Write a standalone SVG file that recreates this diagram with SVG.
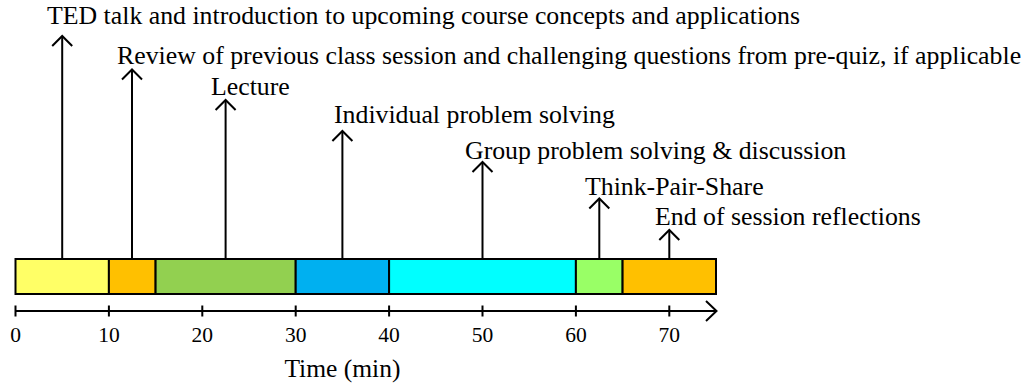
<svg xmlns="http://www.w3.org/2000/svg" width="1029" height="385" viewBox="0 0 1029 385">
  <style>
    text { font-family: "Liberation Serif", "Times New Roman", serif; font-size: 25.8px; fill: #000; }
    .tick { font-size: 21.5px; text-anchor: middle; }
    .seg { stroke: #000; stroke-width: 2; }
    .line { stroke: #000; stroke-width: 2; fill: none; }
  </style>
  <defs>
    <marker id="chev" viewBox="-12 -12 14 24" markerWidth="14" markerHeight="24" refX="0" refY="0" orient="auto" markerUnits="userSpaceOnUse">
      <path d="M-10,-10 L0,0 L-10,10" fill="none" stroke="#000" stroke-width="2"/>
    </marker>
  </defs>

  <!-- timeline segments -->
  <g id="segments">
    <rect class="seg" x="15.5" y="259" width="93.4" height="35" fill="#FFFF66"/>
    <rect class="seg" x="108.9" y="259" width="46.7" height="35" fill="#FFC000"/>
    <rect class="seg" x="155.6" y="259" width="140.1" height="35" fill="#92D050"/>
    <rect class="seg" x="295.7" y="259" width="93.4" height="35" fill="#00B0F0"/>
    <rect class="seg" x="389.1" y="259" width="186.8" height="35" fill="#00FFFF"/>
    <rect class="seg" x="575.9" y="259" width="46.7" height="35" fill="#99FF66"/>
    <rect class="seg" x="622.6" y="259" width="93.4" height="35" fill="#FFC000"/>
  </g>

  <!-- time axis -->
  <g id="axis">
    <path class="line" d="M15.5,311 H716"/>
    <path class="line" d="M706,301 L716.5,311 L706,321"/>
    <path class="line" d="M15.5,305.5 V316.5 M108.9,305.5 V316.5 M202.3,305.5 V316.5 M295.7,305.5 V316.5 M389.1,305.5 V316.5 M482.5,305.5 V316.5 M575.9,305.5 V316.5 M669.3,305.5 V316.5"/>
    <text class="tick" x="15.5" y="342">0</text>
    <text class="tick" x="108.9" y="342">10</text>
    <text class="tick" x="202.3" y="342">20</text>
    <text class="tick" x="295.7" y="342">30</text>
    <text class="tick" x="389.1" y="342">40</text>
    <text class="tick" x="482.5" y="342">50</text>
    <text class="tick" x="575.9" y="342">60</text>
    <text class="tick" x="669.3" y="342">70</text>
    <text x="342.4" y="377" text-anchor="middle" style="font-size:25.5px">Time (min)</text>
  </g>

  <!-- activity pointers -->
  <g id="connectors">
    <path class="line" d="M62.2,259 V36" marker-end="url(#chev)"/>
    <path class="line" d="M132,259 V69.5" marker-end="url(#chev)"/>
    <path class="line" d="M225.6,259 V100" marker-end="url(#chev)"/>
    <path class="line" d="M342.4,259 V131" marker-end="url(#chev)"/>
    <path class="line" d="M482.5,259 V162" marker-end="url(#chev)"/>
    <path class="line" d="M599.3,259 V198.5" marker-end="url(#chev)"/>
    <path class="line" d="M669.3,259 V230" marker-end="url(#chev)"/>
  </g>

  <g id="ted"><text x="47" y="23.5">TED talk and introduction to upcoming course concepts and applications</text></g>
  <g id="review"><text x="117" y="64">Review of previous class session and challenging questions from pre-quiz, if applicable</text></g>
  <g id="lecture"><text x="211" y="95">Lecture</text></g>
  <g id="individual"><text x="334" y="122.5">Individual problem solving</text></g>
  <g id="group"><text x="465" y="158.5">Group problem solving &amp; discussion</text></g>
  <g id="tps"><text x="585" y="195">Think-Pair-Share</text></g>
  <g id="reflections"><text x="655" y="224.5">End of session reflections</text></g>
</svg>
